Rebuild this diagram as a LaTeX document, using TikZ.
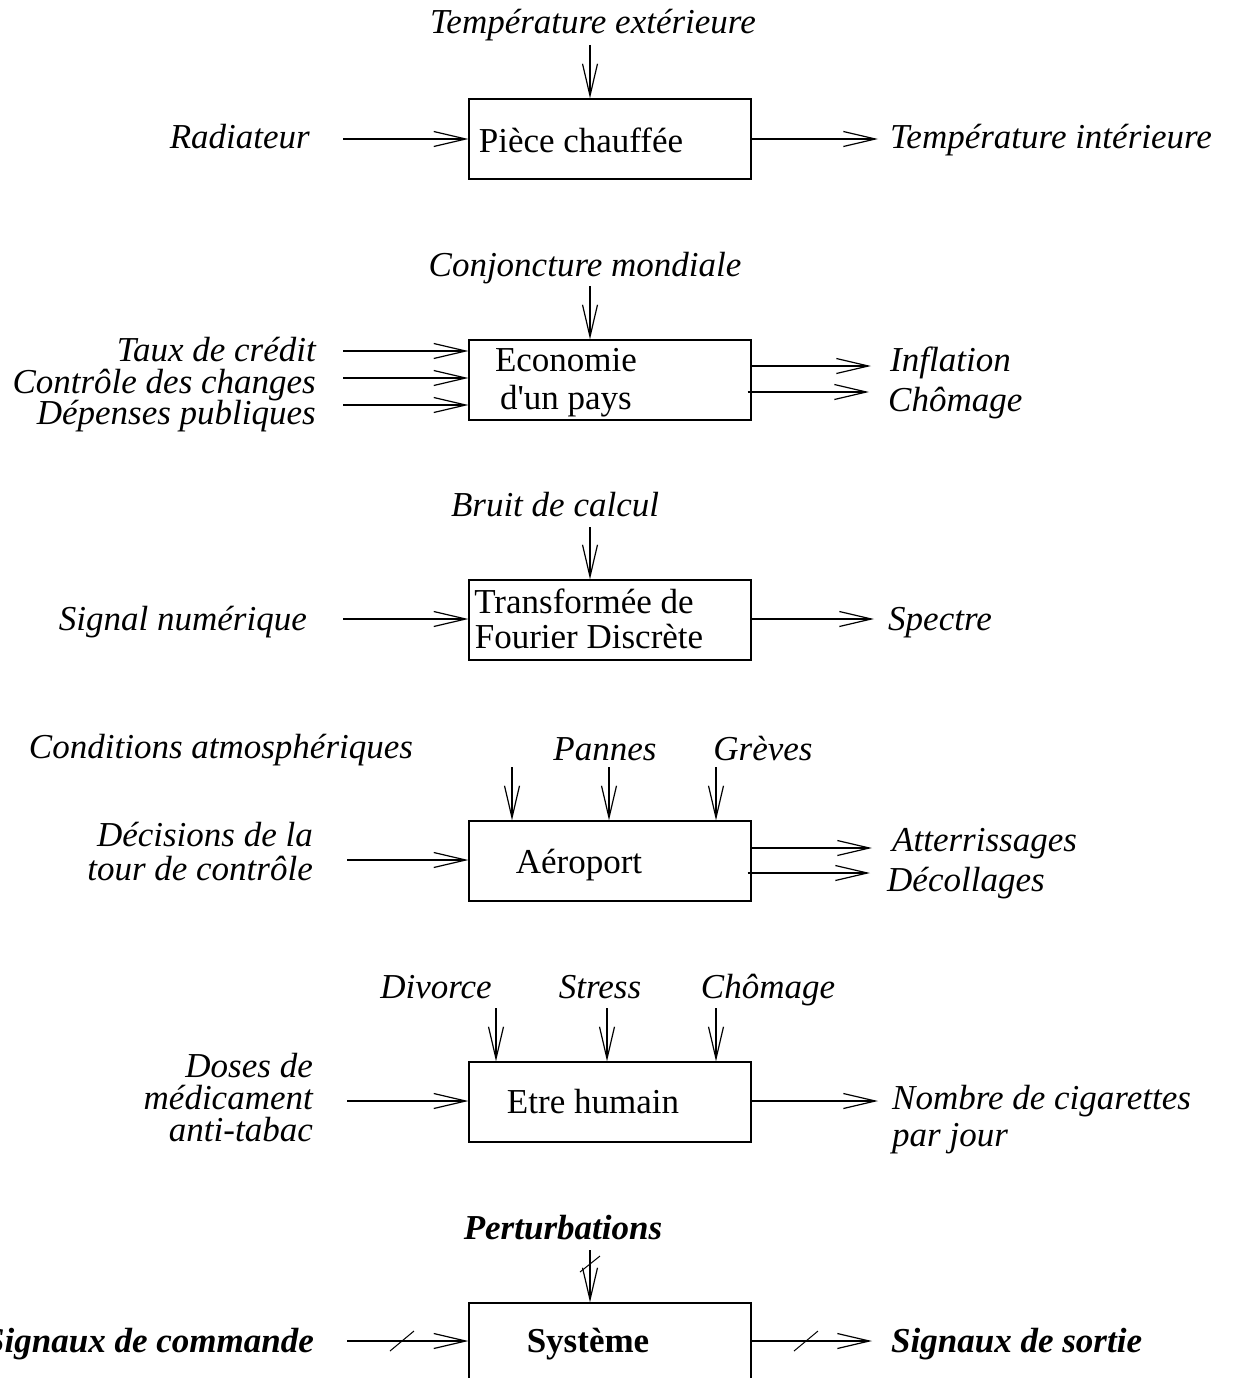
\documentclass[tikz,border=0pt]{standalone}
\usepackage{fontspec}
\setmainfont{Liberation Serif}
\newfontfamily\nomapserif{Liberation Serif}[Ligatures=TeXOff]
\usetikzlibrary{arrows.meta}
\begin{document}
\begin{tikzpicture}[x=1pt,y=-1pt,
  lbl/.style={font=\fontsize{35}{35}\selectfont\itshape, inner sep=0pt},
  blbl/.style={font=\fontsize{35}{35}\selectfont\bfseries\itshape, inner sep=0pt},
  btxt/.style={font=\fontsize{35}{35}\selectfont, inner sep=0pt},
  bbtxt/.style={font=\fontsize{35}{35}\selectfont\bfseries, inner sep=0pt},
  blk/.style={draw, line width=1.2pt, inner sep=0pt, minimum width=282pt, minimum height=80pt},
  arr/.style={line width=1.2pt, -{Straight Barb[length=32pt,width=15pt]}},
  slashln/.style={line width=1pt}]
\useasboundingbox (0,0) rectangle (1238,1378);
\clip (0,0) rectangle (1238,1378);

% ---------- Section 1
\node[blk] (b1) at (610,139) {};
\node[btxt, anchor=base] (t1) at (581,152) {Pièce chauffée};
\node[lbl, anchor=base] (p1) at (593,34) {Température extérieure};
\coordinate (p1s) at (590,45);
\draw[arr] (p1s) -- (p1s |- b1.north);
\node[lbl, anchor=base east] (i1) at (310,148) {Radiateur};
\coordinate (i1s) at (343,139);
\draw[arr] (i1s) -- (i1s -| b1.west);
\coordinate (o1e) at (878,139);
\draw[arr] (o1e -| b1.east) -- (o1e);
\node[lbl, anchor=base west] (o1) at (890,148) {Température intérieure};

% ---------- Section 2
\node[blk] (b2) at (610,380) {};
\node[btxt, anchor=base] (t2a) at (566,371) {Economie};
\node[btxt, anchor=base] (t2b) at (566,409) {d{\nomapserif '}un pays};
\node[lbl, anchor=base] (p2) at (585,276) {Conjoncture mondiale};
\coordinate (p2s) at (590,286);
\draw[arr] (p2s) -- (p2s |- b2.north);
\node[lbl, anchor=base east] (i2a) at (316,361) {Taux de crédit};
\node[lbl, anchor=base east] (i2b) at (316,393) {Contrôle des changes};
\node[lbl, anchor=base east] (i2c) at (316,424) {Dépenses publiques};
\coordinate (i2as) at (343,351);
\coordinate (i2bs) at (343,378);
\coordinate (i2cs) at (343,405);
\draw[arr] (i2as) -- (i2as -| b2.west);
\draw[arr] (i2bs) -- (i2bs -| b2.west);
\draw[arr] (i2cs) -- (i2cs -| b2.west);
\coordinate (o2ae) at (871,366);
\coordinate (o2be) at (869,392);
\draw[arr] (o2ae -| b2.east) -- (o2ae);
\draw[arr] ([xshift=-4pt]o2be -| b2.east) -- (o2be);
\node[lbl, anchor=base west] (o2a) at (890,371) {Inflation};
\node[lbl, anchor=base west] (o2b) at (888,411) {Chômage};

% ---------- Section 3
\node[blk] (b3) at (610,620) {};
\node[btxt, anchor=base] (t3a) at (584,613) {Transformée de};
\node[btxt, anchor=base] (t3b) at (589,648) {Fourier Discrète};
\node[lbl, anchor=base] (p3) at (555,516) {Bruit de calcul};
\coordinate (p3s) at (590,527);
\draw[arr] (p3s) -- (p3s |- b3.north);
\node[lbl, anchor=base east] (i3) at (307,630) {Signal numérique};
\coordinate (i3s) at (343,619);
\draw[arr] (i3s) -- (i3s -| b3.west);
\coordinate (o3e) at (874,619);
\draw[arr] (o3e -| b3.east) -- (o3e);
\node[lbl, anchor=base west] (o3) at (888,630) {Spectre};

% ---------- Section 4
\node[blk] (b4) at (610,861) {};
\node[btxt, anchor=base] (t4) at (579,873) {Aéroport};
\node[lbl, anchor=base] (p4a) at (221,758) {Conditions atmosphériques};
\node[lbl, anchor=base] (p4b) at (605,760) {Pannes};
\node[lbl, anchor=base] (p4c) at (763,760) {Grèves};
\coordinate (p4as) at (512,767);
\coordinate (p4bs) at (609,767);
\coordinate (p4cs) at (716,767);
\draw[arr] (p4as) -- (p4as |- b4.north);
\draw[arr] (p4bs) -- (p4bs |- b4.north);
\draw[arr] (p4cs) -- (p4cs |- b4.north);
\node[lbl, anchor=base east] (i4a) at (313,846) {Décisions de la};
\node[lbl, anchor=base east] (i4b) at (313,880) {tour de contrôle};
\coordinate (i4s) at (347,860);
\draw[arr] (i4s) -- (i4s -| b4.west);
\coordinate (o4ae) at (872,848);
\coordinate (o4be) at (870,873);
\draw[arr] (o4ae -| b4.east) -- (o4ae);
\draw[arr] ([xshift=-4pt]o4be -| b4.east) -- (o4be);
\node[lbl, anchor=base west] (o4a) at (892,851) {Atterrissages};
\node[lbl, anchor=base west] (o4b) at (887,891) {Décollages};

% ---------- Section 5
\node[blk] (b5) at (610,1102) {};
\node[btxt, anchor=base] (t5) at (593,1113) {Etre humain};
\node[lbl, anchor=base] (p5a) at (436,998) {Divorce};
\node[lbl, anchor=base] (p5b) at (600,998) {Stress};
\node[lbl, anchor=base] (p5c) at (768,998) {Chômage};
\coordinate (p5as) at (496,1008);
\coordinate (p5bs) at (607,1008);
\coordinate (p5cs) at (716,1008);
\draw[arr] (p5as) -- (p5as |- b5.north);
\draw[arr] (p5bs) -- (p5bs |- b5.north);
\draw[arr] (p5cs) -- (p5cs |- b5.north);
\node[lbl, anchor=base east] (i5a) at (313,1077) {Doses de};
\node[lbl, anchor=base east] (i5b) at (313,1109) {médicament};
\node[lbl, anchor=base east] (i5c) at (313,1141) {anti-tabac};
\coordinate (i5s) at (347,1101);
\draw[arr] (i5s) -- (i5s -| b5.west);
\coordinate (o5e) at (878,1101);
\draw[arr] (o5e -| b5.east) -- (o5e);
\node[lbl, anchor=base west] (o5a) at (892,1109) {Nombre de cigarettes};
\node[lbl, anchor=base west] (o5b) at (892,1146) {par jour};

% ---------- Section 6
\node[blk, minimum height=120pt] (b6) at (610,1363) {};
\node[bbtxt, anchor=base] (t6) at (588,1352) {Système};
\node[blbl, anchor=base] (p6) at (563,1239) {Perturbations};
\coordinate (p6s) at (590,1250);
\draw[arr] (p6s) -- (p6s |- b6.north);
\coordinate (k6p) at (590,1264);
\draw[slashln] ([shift={(-10,8)}]k6p) -- ([shift={(10,-8)}]k6p);
\node[blbl, anchor=base east] (i6) at (314,1352) {Signaux de commande};
\coordinate (i6s) at (347,1341);
\draw[arr] (i6s) -- (i6s -| b6.west);
\coordinate (k6i) at (402,1341);
\draw[slashln] ([shift={(-12,10)}]k6i) -- ([shift={(12,-10)}]k6i);
\coordinate (o6e) at (872,1341);
\draw[arr] (o6e -| b6.east) -- (o6e);
\coordinate (k6o) at (806,1341);
\draw[slashln] ([shift={(-12,10)}]k6o) -- ([shift={(12,-10)}]k6o);
\node[blbl, anchor=base west] (o6) at (891,1352) {Signaux de sortie};
\end{tikzpicture}
\end{document}
